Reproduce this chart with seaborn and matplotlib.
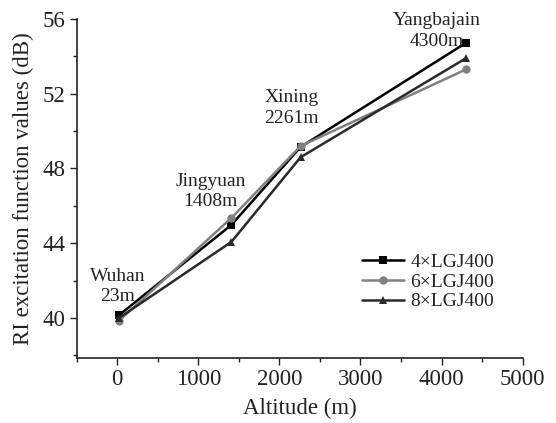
import pandas as pd
import matplotlib.pyplot as plt
import seaborn as sns
from matplotlib.ticker import MultipleLocator

# values
altitude = [23, 1408, 2261, 4300]
sites = ['Wuhan\n23m', 'Jingyuan\n1408m', 'Xining\n2261m', 'Yangbajain\n4300m']
label_x = [0, 1150, 2145, 3945]
label_y = [41.7, 46.75, 51.24, 55.36]
lgj4 = [40.15, 44.98, 49.15, 54.72]
lgj6 = [39.85, 45.35, 49.2, 53.3]
lgj8 = [40.0, 44.07, 48.6, 53.9]
series = ['4×LGJ400', '6×LGJ400', '8×LGJ400']

df = pd.DataFrame({
    'Altitude': altitude * 3,
    'RI': lgj4 + lgj6 + lgj8,
    'Conductor': [s for s in series for _ in altitude],
})

sns.set_style('ticks')
plt.rcParams['font.family'] = ['Liberation Serif', 'DejaVu Serif']

fig = plt.figure(figsize=(5.56, 4.23), dpi=100)
ax = fig.add_axes([0.138, 0.154, 0.802, 0.801])

palette = {'4×LGJ400': '#000000', '6×LGJ400': '#808080', '8×LGJ400': '#2a2a2a'}
markers = {'4×LGJ400': 's', '6×LGJ400': 'o', '8×LGJ400': '^'}
sns.lineplot(data=df, x='Altitude', y='RI', hue='Conductor', style='Conductor',
             palette=palette, markers=markers, dashes=False, markersize=6,
             linewidth=1.8, markeredgewidth=0, ax=ax)

# site labels
for x, y, name in zip(label_x, label_y, sites):
    ax.text(x, y, name, ha='center', va='center', fontsize=14,
            color='#222222', linespacing=1.25)

ax.set_xlim(-500, 5000)
ax.set_ylim(37.86, 56)
ax.set_xticks([0, 1000, 2000, 3000, 4000, 5000])
ax.set_yticks([40, 44, 48, 52, 56])
ax.xaxis.set_minor_locator(MultipleLocator(500))
ax.yaxis.set_minor_locator(MultipleLocator(2))
ax.tick_params(which='major', direction='out', length=5, width=1, labelsize=16.5,
               colors='#222222', pad=3)
ax.tick_params(which='minor', direction='out', length=3, width=1, colors='#222222')
sns.despine(ax=ax)
for sp in ['left', 'bottom']:
    ax.spines[sp].set_linewidth(1.2)
    ax.spines[sp].set_color('#222222')

ax.set_xlabel('Altitude (m)', fontsize=16.5, color='#222222', labelpad=6)
ax.set_ylabel('RI excitation function values (dB)', fontsize=16.5, color='#222222', labelpad=6)

leg = ax.legend(loc='center left', bbox_to_anchor=(0.639, 0.224), frameon=False,
                fontsize=14, handlelength=2.2, handletextpad=0.3, labelspacing=0.1,
                borderaxespad=0, borderpad=0)
for t in leg.get_texts():
    t.set_color('#222222')

fig.savefig('out.png', dpi=100)
